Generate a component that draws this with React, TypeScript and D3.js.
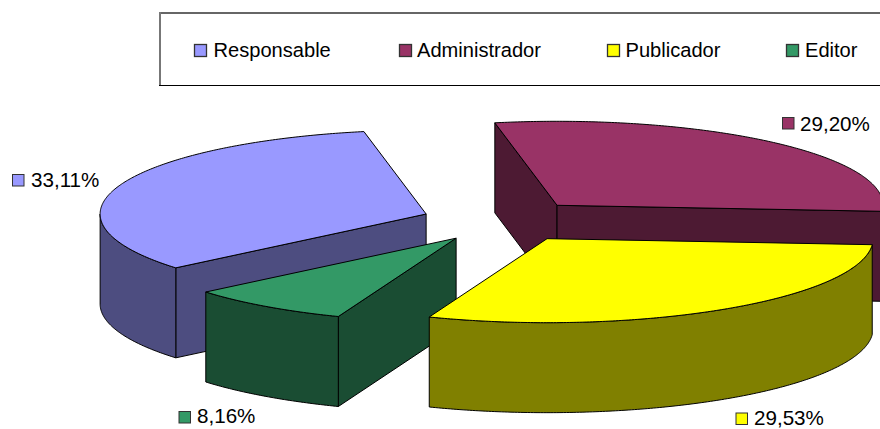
import React from "react";
import * as d3 from "d3";

// ---- data ----
const categories = ["Responsable", "Administrador", "Publicador", "Editor"];
const shares = [33.11, 29.2, 29.53, 8.16];
const shareLabels = ["33,11%", "29,20%", "29,53%", "8,16%"];

// ---- styles and layout ----
const topColors = ["#9999FF", "#993366", "#FFFF00", "#339966"];
const sideColors = ["#4D4D80", "#4D1A33", "#808000", "#1A4D33"];
const legendSwatchX = [194, 399, 607, 786];
const legendTextX = [213.5, 417, 625.5, 805];
const labelPos = [
  { sx: 12, sy: 174, tx: 31, ty: 187 },
  { sx: 782, sy: 117, tx: 800, ty: 130.5 },
  { sx: 735.5, sy: 412.5, tx: 754, ty: 425 },
  { sx: 178.5, sy: 411, tx: 197, ty: 423 },
];
const FONT = "'Liberation Sans', Arial, sans-serif";
const W = 880;
const H = 429;
const CX = 503;
const CY = 221;
const RX = 326;
const RY = 84;
const DEPTH = 90;
const EXPLODE = 0.25;
const START = (229.8 * Math.PI) / 180;
const FRONT_SKEW = (0.8 * Math.PI) / 180; // slight perspective drift of the front rim
const SKEW_ORIGIN = (100 * Math.PI) / 180;

const sx = d3.scaleLinear().domain([-1, 1]).range([CX - RX, CX + RX]);
const sy = d3.scaleLinear().domain([-1, 1]).range([CY - RY, CY + RY]);
const line = d3.line<[number, number]>().x((d) => d[0]).y((d) => d[1]);

const arcs = d3
  .pie<number>()
  .sort(null)
  .startAngle(START)
  .endAngle(START + 2 * Math.PI)(shares);

function sweep(a0: number, a1: number) {
  const n = Math.max(2, Math.ceil(Math.abs(a1 - a0) / 0.01));
  return d3.range(n + 1).map((i) => a0 + ((a1 - a0) * i) / n);
}

function warp(a: number) {
  return a + FRONT_SKEW * Math.pow(Math.max(0, Math.sin(a - SKEW_ORIGIN)), 3);
}

function sliceFaces(a0: number, a1: number) {
  const mid = (a0 + a1) / 2;
  const ox = EXPLODE * Math.sin(mid);
  const oy = -EXPLODE * Math.cos(mid);
  const at = (r: number, a: number, d = 0): [number, number] => {
    const w = warp(a);
    return [sx(ox + r * Math.sin(w)), sy(oy - r * Math.cos(w)) + d];
  };
  const top = line([at(0, 0), ...sweep(a0, a1).map((a) => at(1, a))]) + "Z";
  const walls: string[] = [];
  const cutWall = (a: number) =>
    line([at(0, 0), at(1, a), at(1, a, DEPTH), at(0, 0, DEPTH)]) + "Z";
  if (-Math.cos(a0 - Math.PI / 2) > 0) walls.push(cutWall(a0));
  if (-Math.cos(a1 + Math.PI / 2) > 0) walls.push(cutWall(a1));
  // outer wall: front half of the rim only
  const tau = 2 * Math.PI;
  for (const k of [-1, 0, 1, 2]) {
    const lo = Math.max(a0, Math.PI / 2 + k * tau);
    const hi = Math.min(a1, (3 * Math.PI) / 2 + k * tau);
    if (hi > lo) {
      const s = sweep(lo, hi);
      walls.push(
        line([
          ...s.map((a) => at(1, a)),
          ...s.slice().reverse().map((a) => at(1, a, DEPTH)),
        ]) + "Z"
      );
    }
  }
  return { top, walls, depth: oy };
}

const slices = arcs
  .map((a, i) => ({ i, ...sliceFaces(a.startAngle, a.endAngle) }))
  .sort((p, q) => p.depth - q.depth);

export default function App() {
  return (
    <svg
      width={W}
      height={H}
      style={{ position: "absolute", left: 0, top: 0, background: "#fff", display: "block" }}
    >
      <line x1={159} x2={W} y1={13} y2={13} stroke="#666" strokeWidth={2} />
      <line x1={160} x2={160} y1={12} y2={86} stroke="#777" strokeWidth={2} />
      <line x1={159} x2={W} y1={85.5} y2={85.5} stroke="#000" strokeWidth={1} />
      {categories.map((c, i) => (
        <g key={c}>
          <rect x={legendSwatchX[i] + 0.5} y={44.5} width={12} height={12} fill={topColors[i]} stroke="#333" strokeWidth={1.3} />
          <text x={legendTextX[i]} y={56.5} fontFamily={FONT} fontSize={20.1} fill="#000">
            {c}
          </text>
        </g>
      ))}
      {slices.map((s) => (
        <g key={s.i} stroke="#000" strokeWidth={1}>
          {s.walls.map((d, j) => (
            <path key={j} d={d} fill={sideColors[s.i]} />
          ))}
          <path d={s.top} fill={topColors[s.i]} />
        </g>
      ))}
      {shareLabels.map((t, i) => (
        <g key={t}>
          <rect x={labelPos[i].sx + 0.5} y={labelPos[i].sy + 0.5} width={11.5} height={11.5} fill={topColors[i]} stroke="#333" strokeWidth={1} />
          <text x={labelPos[i].tx} y={labelPos[i].ty} fontFamily={FONT} fontSize={20.6} fill="#000">
            {t}
          </text>
        </g>
      ))}
    </svg>
  );
}
